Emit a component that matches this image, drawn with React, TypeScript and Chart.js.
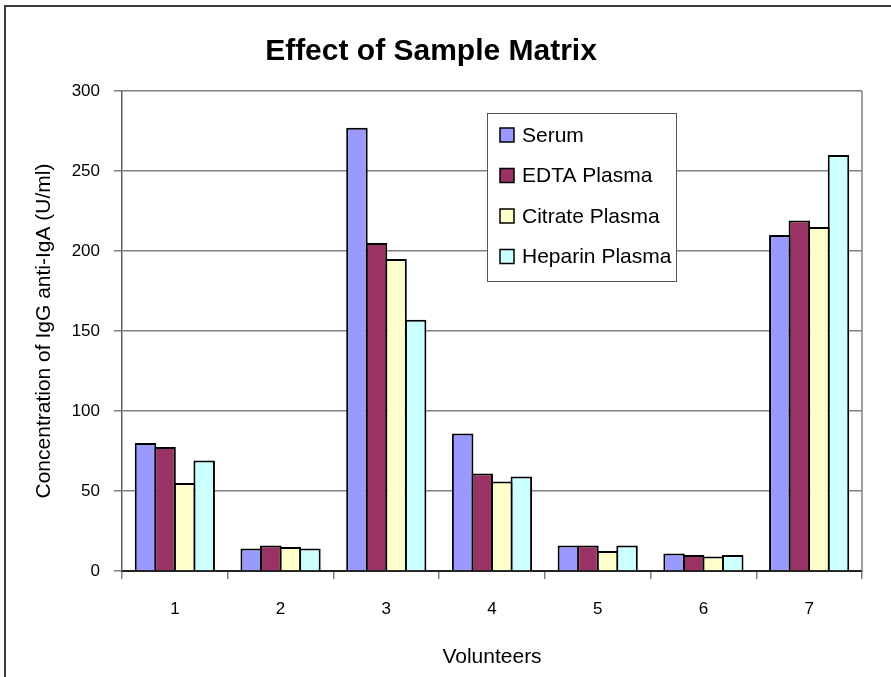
import React, { useEffect, useRef } from "react";
import { Chart, registerables } from "chart.js";

Chart.register(...registerables);

const categories = ["1", "2", "3", "4", "5", "6", "7"];
const serum = [80, 14, 277, 86, 16, 11, 210];
const edtaPlasma = [77.5, 16, 205, 61, 16, 10, 219];
const citratePlasma = [55, 15, 195, 56, 12.5, 9, 215];
const heparinPlasma = [69, 14, 157, 59, 16, 10, 260];
const seriesNames = ["Serum", "EDTA Plasma", "Citrate Plasma", "Heparin Plasma"];
const seriesColors = ["#9999FF", "#993366", "#FFFFCC", "#CCFFFF"];

const FONT = "'Liberation Sans', Arial, sans-serif";

const framePlugin = {
  id: "framePlugin",
  afterDraw(chart: any) {
    const ctx = chart.ctx;
    const a = chart.chartArea;
    ctx.save();
    // plot area right border
    ctx.strokeStyle = "#808080";
    ctx.lineWidth = 1.5;
    ctx.beginPath();
    ctx.moveTo(a.right, a.top);
    ctx.lineTo(a.right, a.bottom);
    ctx.stroke();
    // outer chart border (top & left)
    ctx.strokeStyle = "#3a3a3a";
    ctx.lineWidth = 2;
    ctx.beginPath();
    ctx.moveTo(5, chart.height);
    ctx.lineTo(5, 6);
    ctx.lineTo(chart.width, 6);
    ctx.stroke();

    // legend box
    const lx = 487, ly = 113, lw = 189, lh = 168;
    ctx.fillStyle = "#ffffff";
    ctx.fillRect(lx, ly, lw, lh);
    ctx.strokeStyle = "#555555";
    ctx.lineWidth = 1;
    ctx.strokeRect(lx + 0.5, ly + 0.5, lw, lh);
    ctx.font = `21px ${FONT}`;
    ctx.textBaseline = "middle";
    ctx.textAlign = "left";
    seriesNames.forEach((name, i) => {
      const cy = 135 + i * 40.5;
      ctx.fillStyle = seriesColors[i];
      ctx.fillRect(500, cy - 7, 14, 14);
      ctx.strokeStyle = "#000";
      ctx.lineWidth = 1.5;
      ctx.strokeRect(500, cy - 7, 14, 14);
      ctx.fillStyle = "#000";
      ctx.fillText(name, 522, cy + 1);
    });
    ctx.restore();
  },
};

export default function App() {
  const ref = useRef<HTMLCanvasElement | null>(null);
  useEffect(() => {
    if (!ref.current) return;
    const values = [serum, edtaPlasma, citratePlasma, heparinPlasma];
    const chart = new Chart(ref.current, {
      type: "bar",
      data: {
        labels: categories,
        datasets: values.map((v, i) => ({
          label: seriesNames[i],
          data: v,
          backgroundColor: seriesColors[i],
          borderColor: "#000000",
          borderWidth: 2,
          borderSkipped: "start" as any,
          categoryPercentage: 0.74,
          barPercentage: 1.1,
        })),
      },
      options: {
        responsive: false,
        animation: false,
        layout: { padding: { left: 0, right: 29, top: 0, bottom: 0 } },
        plugins: {
          legend: { display: false },
          tooltip: { enabled: false },
          title: {
            display: true,
            text: "Effect of Sample Matrix",
            color: "#000",
            font: { family: FONT, size: 30, weight: "bold" },
            padding: { top: 34, bottom: 21 },
          },
        },
        scales: {
          x: {
            offset: true,
            afterFit: (s: any) => {
              s.height = 106;
            },
            grid: {
              display: true,
              drawOnChartArea: false,
              drawTicks: true,
              tickLength: 8,
              offset: true,
              color: "#808080",
              lineWidth: 1.5,
            },
            border: { display: true, color: "#222222", width: 2 },
            ticks: {
              color: "#000",
              font: { family: FONT, size: 17 },
              padding: 20,
              maxRotation: 0,
            },
            title: {
              display: true,
              text: "Volunteers",
              color: "#000",
              font: { family: FONT, size: 21 },
              padding: { top: 0, bottom: 7 },
            },
          },
          y: {
            min: 0,
            max: 300,
            afterFit: (s: any) => {
              s.width = 122;
            },
            ticks: {
              stepSize: 50,
              color: "#000",
              font: { family: FONT, size: 17 },
              padding: 14,
            },
            grid: {
              color: "#808080",
              lineWidth: 1.5,
              tickLength: 8,
              drawTicks: true,
            },
            border: { display: true, color: "#606060", width: 1.5 },
            title: {
              display: true,
              text: "Concentration of IgG anti-IgA (U/ml)",
              color: "#000",
              font: { family: FONT, size: 21 },
              padding: { top: 32, bottom: 0 },
            },
          },
        },
      },
      plugins: [framePlugin],
    });
    return () => chart.destroy();
  }, []);
  return (
    <div style={{ position: "fixed", left: 0, top: 0, width: 891, height: 677, background: "#fff" }}>
      <canvas ref={ref} width={891} height={677} style={{ display: "block" }} />
    </div>
  );
}
